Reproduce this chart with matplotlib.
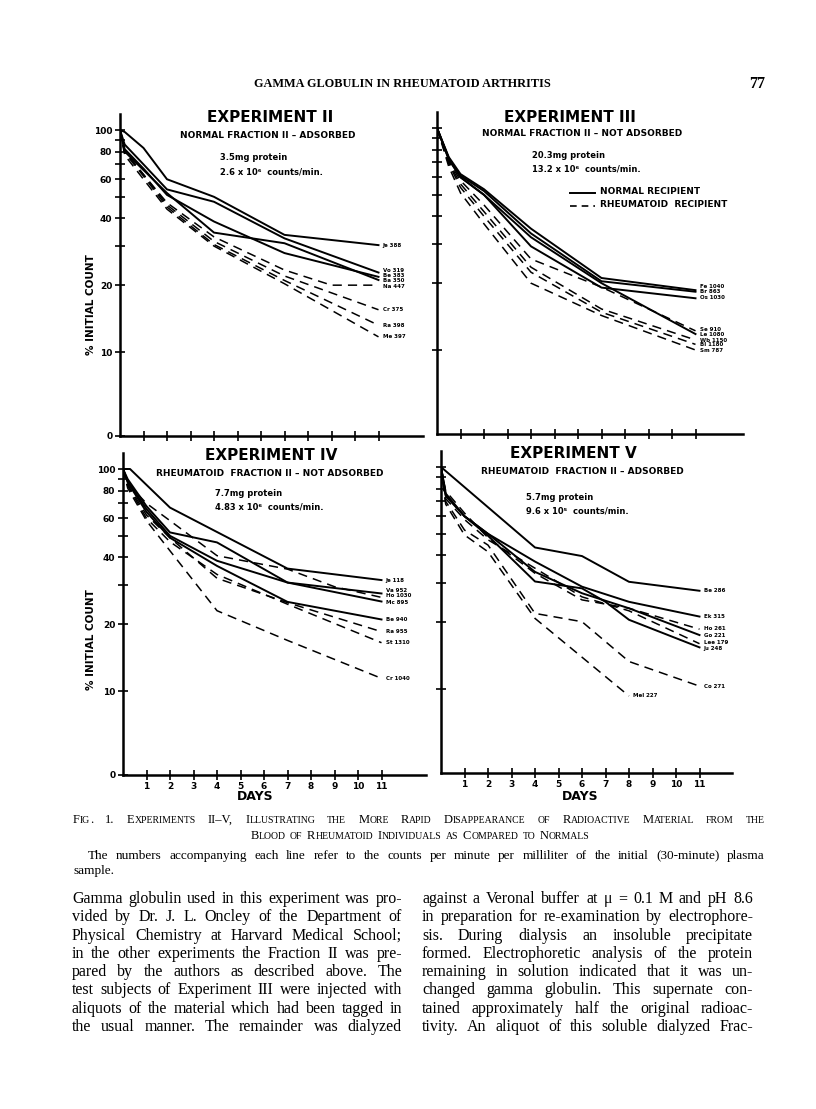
import matplotlib
matplotlib.use("Agg")
import matplotlib.pyplot as plt
from matplotlib.ticker import NullLocator
import numpy as np

W, H = 816, 1109

# ---------------- data ----------------
exp2_names = ["Je 388", "Vo 319", "Be 383", "Ba 350", "Na 447", "Cr 375", "Ra 398", "Me 397"]
exp2_group = ["N", "N", "N", "N", "R", "R", "R", "R"]
exp2_days = [
    [0, 0.2, 1, 2, 4, 7, 11],
    [0, 0.2, 1, 2, 4, 7, 11],
    [0, 0.2, 1, 2, 4, 7, 11],
    [0, 0.2, 1, 2, 4, 7, 11],
    [0, 0.2, 1, 2, 4, 7, 9, 11],
    [0, 0.2, 1, 2, 4, 7, 11],
    [0, 0.2, 1, 2, 4, 7, 11],
    [0, 0.2, 1, 2, 4, 7, 11],
]
exp2_values = [
    [100, 98, 83, 60, 50, 33.7, 30.3],
    [100, 86, 70, 54, 47.5, 32.5, 22.8],
    [100, 82, 67, 51, 38.7, 27.9, 21.8],
    [100, 80, 66, 52, 34.5, 30.9, 21.1],
    [100, 80, 63, 47, 33, 23.4, 20, 20],
    [100, 80, 63, 46, 31.5, 22, 15.5],
    [100, 79, 62, 45, 30.5, 21, 13.2],
    [100, 77, 60, 44, 30, 20.3, 11.7],
]

exp3_names = ["Fe 1040", "Br 863", "Os 1030", "Le 1080", "Se 910", "Wb 1150", "Bl 1180", "Sm 787"]
exp3_group = ["N", "N", "N", "N", "R", "R", "R", "R"]
exp3_days = [[0, 0.5, 1, 2, 4, 7, 11]] * 8
exp3_values = [
    [100, 74, 62, 53, 35.2, 21.1, 18.6],
    [100, 73, 61, 52, 33.5, 20.4, 18.3],
    [100, 73, 60, 50, 29.3, 19.1, 17.1],
    [100, 72, 60, 50, 32.2, 20.0, 11.8],
    [100, 71, 58, 45, 25.7, 19.2, 12.2],
    [100, 70, 56, 42, 23.6, 15.3, 11.1],
    [100, 69, 54, 40, 22.4, 14.8, 10.6],
    [100, 67, 51, 37, 20.0, 14.3, 10.0],
]

exp4_names = ["Je 118", "Va 952", "Ho 1030", "Mc 895", "Be 940", "Ra 955", "St 1310", "Cr 1040"]
exp4_group = ["N", "N", "R", "N", "N", "R", "R", "R"]
exp4_days = [
    [0, 0.3, 2, 7, 11],
    [0, 0.2, 1, 2, 4, 7, 11],
    [0, 0.2, 1, 2, 4, 7, 9, 11],
    [0, 0.2, 1, 2, 4, 7, 11],
    [0, 0.2, 1, 2, 4, 7, 11],
    [0, 0.2, 1, 2, 4, 7, 11],
    [0, 0.2, 1, 2, 4, 7, 11],
    [0, 0.2, 1, 2, 4, 7, 11],
]
exp4_values = [
    [100, 100, 67, 35.6, 31.6],
    [100, 90, 68, 51.8, 46.7, 30.8, 27.5],
    [100, 86, 70, 58.5, 40.7, 35.4, 29.5, 26.4],
    [100, 88, 66, 50, 38.6, 30.8, 25.3],
    [100, 87, 64, 49, 36.6, 25.2, 21.0],
    [100, 85, 62, 49, 32.2, 25, 18.5],
    [100, 84, 60, 47, 33.5, 24.6, 16.5],
    [100, 82, 58.5, 42.8, 23, 16.9, 11.4],
]

exp5_names = ["Be 286", "Ek 315", "Ho 261", "Go 221", "Lee 179", "Ju 248", "Co 271", "Mel 227"]
exp5_group = ["N", "N", "R", "N", "R", "N", "R", "R"]
exp5_days = [
    [0, 4, 6, 8, 11],
    [0, 0.2, 1, 2, 4, 6, 8, 11],
    [0, 0.2, 1, 2, 4, 6, 8, 11],
    [0, 0.2, 1, 2, 4, 6, 8, 11],
    [0, 0.2, 1, 2, 4, 6, 8, 11],
    [0, 0.2, 1, 2, 4, 6, 7, 8, 11],
    [0, 0.2, 1, 2, 4, 6, 8, 11],
    [0, 0.2, 1, 2, 4, 8],
]
exp5_values = [
    [100, 43.4, 39.7, 30.4, 27.7],
    [100, 76, 60, 50, 37.5, 28.9, 24.7, 21.2],
    [100, 78, 62, 48, 33.2, 25.2, 23.1, 18.6],
    [100, 75, 60, 50, 33.7, 27.0, 23.1, 17.5],
    [100, 72, 58, 47, 35, 26, 22.5, 16.0],
    [100, 74, 60, 49, 30.5, 28.4, 24.7, 20.5, 15.4],
    [100, 70, 52, 44.5, 21.9, 20.1, 13.3, 10.3],
    [100, 68, 49.4, 41.5, 20.8, 9.3],
]

titles = ["EXPERIMENT II", "EXPERIMENT III", "EXPERIMENT IV", "EXPERIMENT V"]
subtitles = ["NORMAL FRACTION II – ADSORBED", "NORMAL FRACTION II – NOT ADSORBED",
             "RHEUMATOID  FRACTION II – NOT ADSORBED", "RHEUMATOID  FRACTION II – ADSORBED"]
doses = [["3.5mg protein", "2.6 x 10⁶  counts/min."],
         ["20.3mg protein", "13.2 x 10⁶  counts/min."],
         ["7.7mg protein", "4.83 x 10⁶  counts/min."],
         ["5.7mg protein", "9.6 x 10⁵  counts/min."]]
legend_labels = ["NORMAL RECIPIENT", "RHEUMATOID  RECIPIENT"]

y_ticks = [10, 20, 30, 40, 50, 60, 70, 80, 90, 100]
y_ticklabels = ["10", "20", "", "40", "", "60", "", "80", "", "100"]
day_ticks = [1, 2, 3, 4, 5, 6, 7, 8, 9, 10, 11]

header = "GAMMA GLOBULIN IN RHEUMATOID ARTHRITIS"
page_no = "77"
caption1 = "Fig. 1.  Experiments II–V, Illustrating the More Rapid Disappearance of Radioactive Material from the"
caption2 = "Blood of Rheumatoid Individuals as Compared to Normals"
caption3 = ("The numbers accompanying each line refer to the counts per minute per milliliter "
            "of the initial (30-minute) plasma")
caption4 = "sample."
left_col = [
    "Gamma globulin used in this experiment was pro-",
    "vided by Dr. J. L. Oncley of the Department of",
    "Physical Chemistry at Harvard Medical School;",
    "in the other experiments the Fraction II was pre-",
    "pared by the authors as described above. The",
    "test subjects of Experiment III were injected with",
    "aliquots of the material which had been tagged in",
    "the usual manner. The remainder was dialyzed",
]
right_col = [
    "against a Veronal buffer at μ = 0.1 M and pH 8.6",
    "in preparation for re-examination by electrophore-",
    "sis. During dialysis an insoluble precipitate",
    "formed. Electrophoretic analysis of the protein",
    "remaining in solution indicated that it was un-",
    "changed gamma globulin. This supernate con-",
    "tained approximately half the original radioac-",
    "tivity. An aliquot of this soluble dialyzed Frac-",
]

# ---------------- layout ----------------
SANS = "DejaVu Sans"
SERIF = "Liberation Serif"
DEC = 222.0      # pixels per decade
PXDAY = 23.5     # pixels per day
YBOT, YTOP = 4.2, 118
# small vertical nudges (pixels, + = down) so stacked end labels do not collide
label_dy = {"Vo 319": -2.5, "Be 383": -1.5, "Ba 350": 0.5, "Na 447": 1.5,
            "Fe 1040": -3.5, "Br 863": -0.5, "Os 1030": -1,
            "Se 910": -1.5, "Le 1080": 0.5, "Wb 1150": 0.5, "Bl 1180": 0.5, "Sm 787": 0.5,
            "Va 952": -2.5, "Ho 1030": -1.5, "Mc 895": 0.5,
            "Ho 261": -1, "Go 221": 0.5, "Lee 179": -1.5, "Ju 248": 1.5}

fig = plt.figure(figsize=(W / 100, H / 100), dpi=100)
fig.patch.set_facecolor("white")
renderer = fig.canvas.get_renderer()


def px_text(x, y, s, **kw):
    return fig.text(x / W, 1 - y / H, s, **kw)


def width_of(s, **kw):
    t = px_text(0, 0, s, **kw)
    w = t.get_window_extent(renderer).width
    t.remove()
    return w


def panel(left, y100, xmax, names, groups, days, values, show_y, show_x):
    top = y100 - DEC * np.log10(YTOP / 100)
    bottom = y100 + DEC * np.log10(100 / YBOT)
    right = left + xmax * PXDAY
    ax = fig.add_axes([left / W, 1 - bottom / H, (right - left) / W, (bottom - top) / H])
    ax.set_yscale("log")
    ax.set_xlim(0, xmax)
    ax.set_ylim(YBOT, YTOP)
    ax.patch.set_alpha(0)
    for name, g, d, v in zip(names, groups, days, values):
        if g == "N":
            ax.plot(d, v, color="black", lw=1.4, solid_joinstyle="round")
        else:
            ax.plot(d, v, color="black", lw=1.1, ls=(0, (6, 4)))
        dy = label_dy.get(name, 0) * 0.72
        ax.annotate(name, (d[-1], v[-1]), xytext=(3, -dy), textcoords="offset points",
                    ha="left", va="center", fontsize=4.0, fontweight="bold", family=SANS)
    for s in ["top", "right"]:
        ax.spines[s].set_visible(False)
    for s in ["left", "bottom"]:
        ax.spines[s].set_linewidth(1.8)
    ax.yaxis.set_minor_locator(NullLocator())
    if show_y:
        ax.set_yticks([YBOT] + y_ticks)
        ax.set_yticklabels(["0"] + y_ticklabels)
    else:
        ax.set_yticks(y_ticks)
        ax.set_yticklabels([""] * len(y_ticks))
    ax.set_xticks(day_ticks)
    if show_x:
        ax.set_xticklabels([str(t) for t in day_ticks])
    else:
        ax.set_xticklabels([""] * len(day_ticks))
    ax.tick_params(axis="both", which="both", direction="inout", length=7, width=1.2,
                   labelsize=6.5, pad=2)
    for lab in ax.get_xticklabels() + ax.get_yticklabels():
        lab.set_fontweight("bold")
        lab.set_family(SANS)
    return ax


panel(120, 130, 12.9, exp2_names, exp2_group, exp2_days, exp2_values, True, False)
panel(437, 128, 13.0, exp3_names, exp3_group, exp3_days, exp3_values, False, False)
panel(123, 469, 12.9, exp4_names, exp4_group, exp4_days, exp4_values, True, True)
panel(441, 467, 12.4, exp5_names, exp5_group, exp5_days, exp5_values, False, True)

# panel lettering
title_pos = [(270, 117), (570, 117), (271, 456), (573, 454)]
sub_pos = [(268, 135), (582, 133), (270, 473), (582, 472)]
dose_pos = [(220, 158), (532, 155), (215, 493), (526, 497)]
for i in range(4):
    px_text(*title_pos[i], titles[i], ha="center", va="center", fontsize=11,
            fontweight="bold", family=SANS)
    px_text(*sub_pos[i], subtitles[i], ha="center", va="center", fontsize=6.5,
            fontweight="bold", family=SANS)
    for k, line in enumerate(doses[i]):
        px_text(dose_pos[i][0], dose_pos[i][1] + 14 * k, line, ha="left", va="center",
                fontsize=6, fontweight="bold", family=SANS)

for yc in (305, 640):
    px_text(91, yc, "% INITIAL COUNT", rotation=90, ha="center", va="center",
            fontsize=7.5, fontweight="bold", family=SANS)
for xc in (255, 580):
    px_text(xc, 796, "DAYS", ha="center", va="center", fontsize=9,
            fontweight="bold", family=SANS)

# legend of experiment III
fig.add_artist(plt.Line2D([570 / W, 595 / W], [1 - 193 / H, 1 - 193 / H], color="black", lw=1.4))
fig.add_artist(plt.Line2D([570 / W, 595 / W], [1 - 206 / H, 1 - 206 / H], color="black",
                          lw=1.2, ls=(0, (4, 3))))
px_text(600, 192, legend_labels[0], ha="left", va="center", fontsize=6.5, fontweight="bold", family=SANS)
px_text(600, 205, legend_labels[1], ha="left", va="center", fontsize=6.5, fontweight="bold", family=SANS)

# ---------------- page text ----------------
px_text(402, 87, header, ha="center", va="baseline", fontsize=8.8, fontweight="bold", family=SERIF)
px_text(757, 88, page_no, ha="center", va="baseline", fontsize=11.5, fontweight="bold", family=SERIF)


def justify(line, x0, x1, y, **kw):
    words = line.split()
    ws = [width_of(w, **kw) for w in words]
    gap = (x1 - x0 - sum(ws)) / max(len(words) - 1, 1)
    x = x0
    for w, wd in zip(words, ws):
        px_text(x, y, w, ha="left", va="baseline", **kw)
        x += wd + gap


def sc_pieces(word, big, small):
    out = []
    for ch in word:
        size = small if ch.islower() else big
        if out and out[-1][1] == size:
            out[-1][0] += ch.upper()
        else:
            out.append([ch.upper(), size])
    return out


def sc_width(word, big, small):
    ps = sc_pieces(word, big, small)
    return sum(width_of(p, fontsize=s, family=SERIF) for p, s in ps)


def sc_draw(x, y, word, big, small):
    for p, s in sc_pieces(word, big, small):
        px_text(x, y, p, fontsize=s, family=SERIF, ha="left", va="baseline")
        x += width_of(p, fontsize=s, family=SERIF)


def sc_line(line, x0, x1, y, big, small, center=None):
    words = line.split()
    ws = [sc_width(w, big, small) for w in words]
    if center is None:
        gap = (x1 - x0 - sum(ws)) / (len(words) - 1)
        x = x0
    else:
        gap = 4.5
        x = center - (sum(ws) + gap * (len(words) - 1)) / 2
    for w, wd in zip(words, ws):
        sc_draw(x, y, w, big, small)
        x += wd + gap


sc_line(caption1, 73, 765, 823, 9, 7, None)
sc_line(caption2, 73, 765, 839, 9, 7, center=420)
justify(caption3, 88, 765, 859, fontsize=9.5, family=SERIF)
px_text(73, 874, caption4, ha="left", va="baseline", fontsize=9.5, family=SERIF)

for i, line in enumerate(left_col):
    justify(line, 72, 402, 903 + 18.3 * i, fontsize=11.5, family=SERIF)
for i, line in enumerate(right_col):
    justify(line, 422, 753, 903 + 18.3 * i, fontsize=11.5, family=SERIF)

fig.savefig("out.png", dpi=100, facecolor="white")
